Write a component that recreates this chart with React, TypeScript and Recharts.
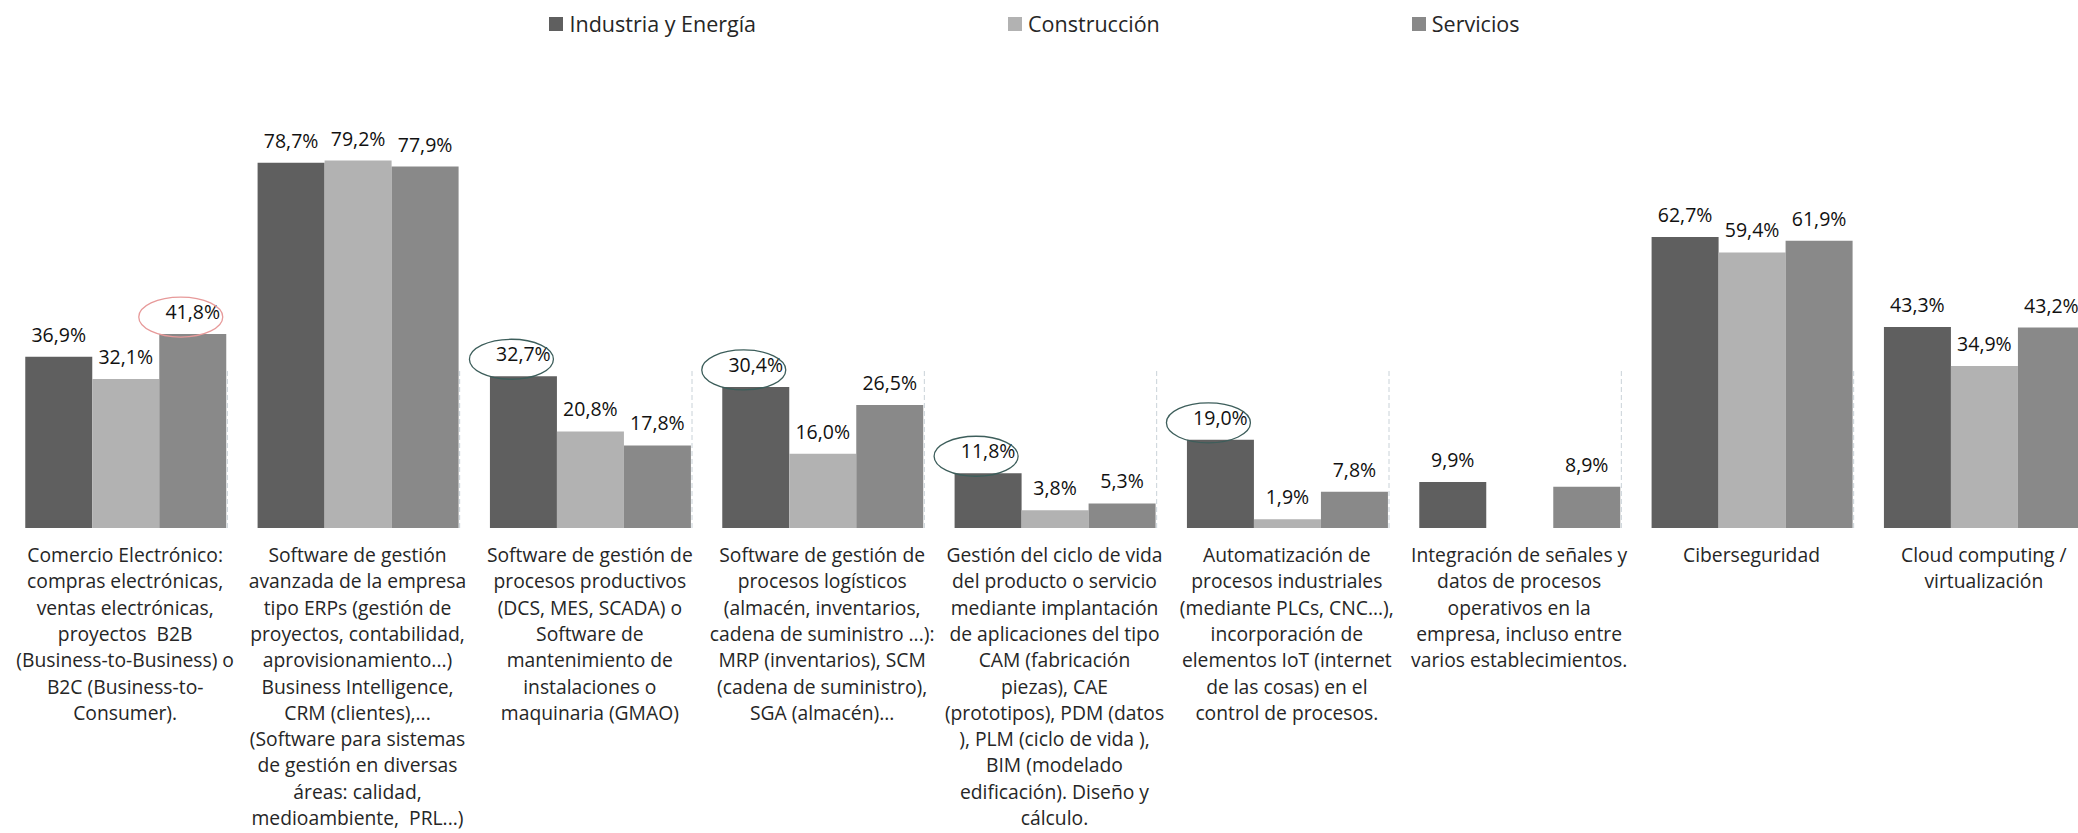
import { BarChart, Bar, XAxis, YAxis, Legend, LabelList, ReferenceLine } from 'recharts'

const categories = [
  'Comercio Electrónico:\ncompras electrónicas,\nventas electrónicas,\nproyectos  B2B\n(Business-to-Business) o\nB2C (Business-to-\nConsumer).',
  'Software de gestión\navanzada de la empresa\ntipo ERPs (gestión de\nproyectos, contabilidad,\naprovisionamiento...)\nBusiness Intelligence,\nCRM (clientes),...\n(Software para sistemas\nde gestión en diversas\náreas: calidad,\nmedioambiente,  PRL...)',
  'Software de gestión de\nprocesos productivos\n(DCS, MES, SCADA) o\nSoftware de\nmantenimiento de\ninstalaciones o\nmaquinaria (GMAO)',
  'Software de gestión de\nprocesos logísticos\n(almacén, inventarios,\ncadena de suministro ...):\nMRP (inventarios), SCM\n(cadena de suministro),\nSGA (almacén)...',
  'Gestión del ciclo de vida\ndel producto o servicio\nmediante implantación\nde aplicaciones del tipo\nCAM (fabricación\npiezas), CAE\n(prototipos), PDM (datos\n), PLM (ciclo de vida ),\nBIM (modelado\nedificación). Diseño y\ncálculo.',
  'Automatización de\nprocesos industriales\n(mediante PLCs, CNC...),\nincorporación de\nelementos IoT (internet\nde las cosas) en el\ncontrol de procesos.',
  'Integración de señales y\ndatos de procesos\noperativos en la\nempresa, incluso entre\nvarios establecimientos.',
  'Ciberseguridad',
  'Cloud computing /\nvirtualización',
]

const seriesNames = ['Industria y Energía', 'Construcción', 'Servicios']

const industria = [36.9, 78.7, 32.7, 30.4, 11.8, 19.0, 9.9, 62.7, 43.3]
const construccion = [32.1, 79.2, 20.8, 16.0, 3.8, 1.9, null, 59.4, 34.9]
const servicios = [41.8, 77.9, 17.8, 26.5, 5.3, 7.8, 8.9, 61.9, 43.2]

// hand-drawn highlight circles in the original
const circledIndustria = [false, false, true, true, true, true, false, false, false]
const circledServicios = [true, false, false, false, false, false, false, false, false]

const data = categories.map((cat, i) => ({
  cat,
  industria: industria[i],
  construccion: construccion[i],
  servicios: servicios[i],
}))

const FONT = '"Open Sans", sans-serif'
const AXIS_HEIGHT = 305

const fmt = (v: number) => v.toFixed(1).replace('.', ',') + '%'

function makeLabel(circled: boolean[], ringColor: string) {
  return (props: any) => {
    const { value, index } = props
    if (value === null || value === undefined) return null
    const vb = props.viewBox ?? props
    const cx = vb.x + vb.width / 2
    const top = vb.y
    return (
      <g>
        <text
          x={cx}
          y={top - 15}
          textAnchor="middle"
          fontFamily={FONT}
          fontSize={19.5}
          fill="#111"
        >
          {fmt(Number(value))}
        </text>
        {circled[index] && (
          <ellipse
            cx={cx - 12}
            cy={top - 17}
            rx={42}
            ry={20}
            fill="none"
            stroke={ringColor}
            strokeWidth={1.3}
          />
        )}
      </g>
    )
  }
}

function CategoryTick(props: any) {
  const { x, y, payload } = props
  const lines = String(payload.value).split('\n')
  return (
    <text
      x={x}
      y={y + 34}
      textAnchor="middle"
      fontFamily={FONT}
      fontSize={19.3}
      fill="#262626"
      style={{ whiteSpace: 'pre' }}
    >
      {lines.map((l, i) => (
        <tspan key={i} x={x} dy={i === 0 ? 0 : 26.3}>
          {l}
        </tspan>
      ))}
    </text>
  )
}

function LegendContent(props: any) {
  const items = [...(props.payload || [])].sort(
    (a: any, b: any) => seriesNames.indexOf(a.value) - seriesNames.indexOf(b.value)
  )
  return (
    <div
      style={{
        display: 'flex',
        justifyContent: 'center',
        alignItems: 'flex-start',
        gap: 252,
        height: 64,
        paddingTop: 12,
        paddingRight: 40,
        boxSizing: 'border-box',
        fontFamily: FONT,
        fontSize: 21.5,
        lineHeight: '24px',
        color: '#262626',
      }}
    >
      {items.map((entry: any) => (
        <div key={entry.value} style={{ display: 'flex', alignItems: 'center', height: 24 }}>
          <span
            style={{
              display: 'inline-block',
              width: 14,
              height: 14,
              background: entry.color,
              marginRight: 6,
            }}
          />
          <span>{entry.value}</span>
        </div>
      ))}
    </div>
  )
}

function Separator(props: any) {
  const { x1, y1, y2 } = props
  return (
    <line
      x1={x1 - 14}
      x2={x1 - 14}
      y1={y1}
      y2={y2 + AXIS_HEIGHT}
      stroke="#c9d2d8"
      strokeWidth={1}
      strokeDasharray="5 3"
    />
  )
}

export default function App() {
  return (
    <div
      style={{
        position: 'absolute',
        left: 0,
        top: 0,
        width: 2078,
        height: 833,
        overflow: 'hidden',
        background: '#fff',
      }}
    >
      <BarChart
        width={2100}
        height={833}
        data={data}
        margin={{ top: 0, right: 0, bottom: 0, left: 9 }}
        barCategoryGap="7%"
        barGap={0}
      >
        <XAxis
          dataKey="cat"
          interval={0}
          axisLine={false}
          tickLine={false}
          tickSize={0}
          tickMargin={0}
          height={AXIS_HEIGHT}
          tick={<CategoryTick />}
        />
        <YAxis hide domain={[0, 100]} />
        <Legend verticalAlign="top" content={<LegendContent />} />
        {categories.slice(1).map((c) => (
          <ReferenceLine key={c} x={c} position="start" shape={Separator} />
        ))}
        <Bar dataKey="industria" name={seriesNames[0]} fill="#5f5f5f" isAnimationActive={false}>
          <LabelList dataKey="industria" content={makeLabel(circledIndustria, '#3d5e5b')} />
        </Bar>
        <Bar dataKey="construccion" name={seriesNames[1]} fill="#b2b2b2" isAnimationActive={false}>
          <LabelList dataKey="construccion" content={makeLabel([], '#3d5e5b')} />
        </Bar>
        <Bar dataKey="servicios" name={seriesNames[2]} fill="#898989" isAnimationActive={false}>
          <LabelList dataKey="servicios" content={makeLabel(circledServicios, '#e79a9a')} />
        </Bar>
      </BarChart>
    </div>
  )
}
